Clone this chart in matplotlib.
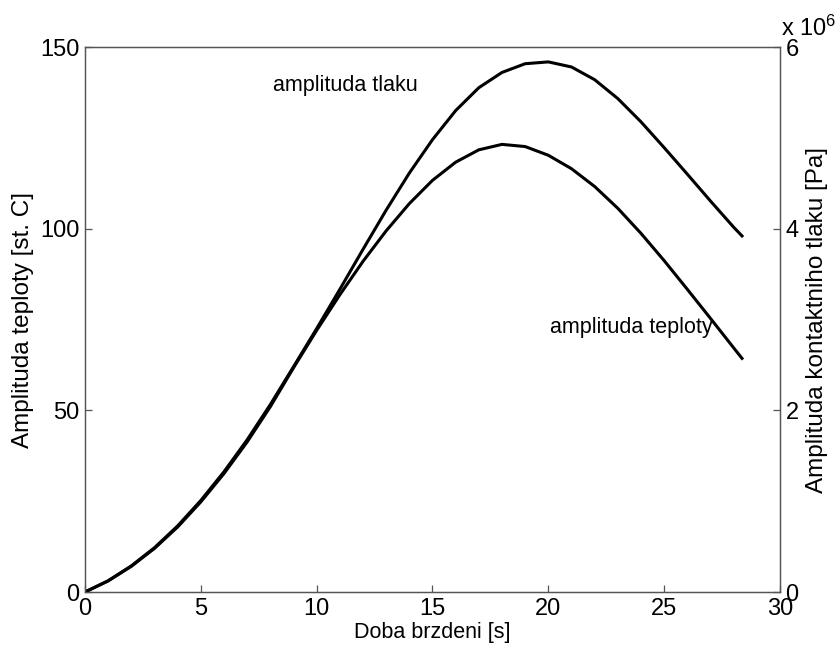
import numpy as np
import matplotlib.pyplot as plt

plt.rcParams['font.family'] = ['Liberation Sans', 'DejaVu Sans']
plt.rcParams['mathtext.fontset'] = 'custom'
plt.rcParams['mathtext.rm'] = 'Liberation Sans'
plt.rcParams['mathtext.default'] = 'regular'

# data
cas = [0, 1, 2, 3, 4, 5, 6, 7, 8, 9, 10, 11, 12, 13, 14, 15, 16, 17, 18, 19,
       20, 21, 22, 23, 24, 25, 26, 27, 28, 28.36]

# amplituda teploty [st. C]
teplota = [0, 3.05, 7.06, 12.0, 17.9, 24.8, 32.6, 41.3, 51.0, 61.7,
           72.0, 81.8, 91.0, 99.4, 106.9, 113.3, 118.3, 121.7, 123.2, 122.6,
           120.2, 116.5, 111.6, 105.6, 98.7, 91.2, 83.3, 75.3, 67.2, 64.3]

# amplituda kontaktniho tlaku [Pa]
tlak = [0, 0.124e6, 0.288e6, 0.488e6, 0.728e6, 1.008e6, 1.324e6, 1.676e6,
        2.064e6, 2.48e6, 2.90e6, 3.332e6, 3.772e6, 4.204e6, 4.612e6, 4.98e6,
        5.30e6, 5.552e6, 5.72e6, 5.816e6, 5.836e6, 5.78e6, 5.64e6, 5.432e6,
        5.176e6, 4.892e6, 4.60e6, 4.304e6, 4.016e6, 3.92e6]

x_ticks = [0, 5, 10, 15, 20, 25, 30]
y1_ticks = [0, 50, 100, 150]
y2_ticks = [0, 2e6, 4e6, 6e6]

fig = plt.figure(figsize=(8.38, 6.51), dpi=100)
ax1 = fig.add_axes([0.1014, 0.0906, 0.8294, 0.8372])
ax2 = ax1.twinx()

ax1.plot(cas, teplota, color='black', lw=2.2, solid_joinstyle='round')
ax2.plot(cas, tlak, color='black', lw=2.2, solid_joinstyle='round')

ax1.set_xlim(0, 30)
ax1.set_ylim(0, 150)
ax2.set_ylim(0, 6e6)
ax1.set_xticks(x_ticks)
ax1.set_yticks(y1_ticks)
ax2.set_yticks(y2_ticks)
ax2.set_yticklabels([str(int(v / 1e6)) for v in y2_ticks])

for ax in (ax1, ax2):
    for s in ax.spines.values():
        s.set_color('#555555')
        s.set_linewidth(0.9)
    ax.tick_params(direction='in', length=5, width=0.9, color='#555555',
                   labelsize=17, pad=4)

ax1.set_xlabel('Doba brzdeni [s]', fontsize=15.5, labelpad=2)
ax1.set_ylabel('Amplituda teploty [st. C]', fontsize=17.5, labelpad=4)
ax2.set_ylabel('Amplituda kontaktniho tlaku [Pa]', fontsize=17.5, labelpad=5)

# exponent of the right axis, MATLAB style
ax2.text(1.002, 1.012, 'x 10$^{6}$', transform=ax2.transAxes,
         fontsize=17, ha='left', va='bottom')

ax1.text(8.1, 139.3, 'amplituda tlaku', fontsize=15.5, va='center')
ax1.text(20.07, 72.9, 'amplituda teploty', fontsize=15.5, va='center')

plt.savefig('out.png', dpi=100)
